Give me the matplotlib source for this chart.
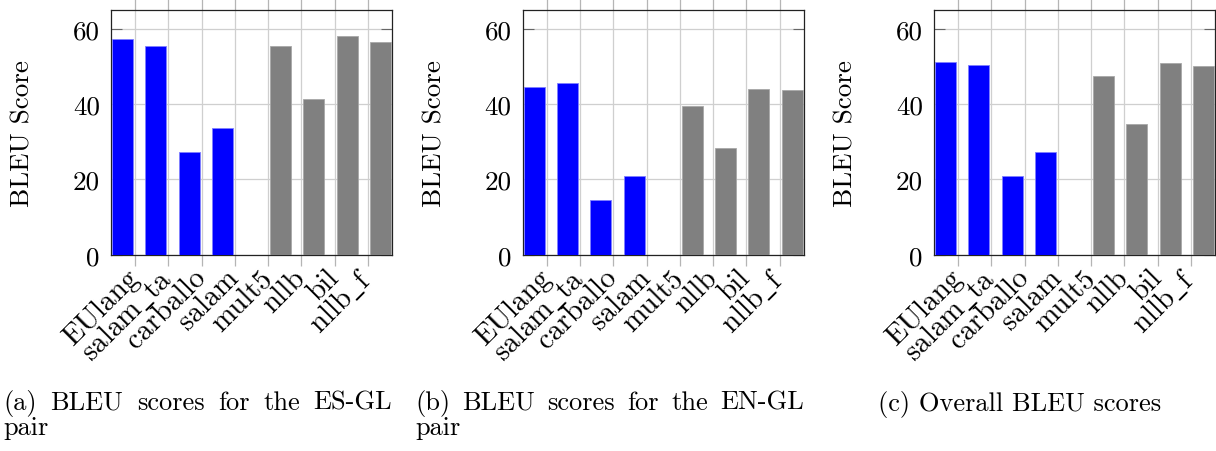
import matplotlib
matplotlib.use('Agg')
import matplotlib.pyplot as plt
import numpy as np

# ---------------- data ----------------
systems = ['EUlang', 'salam_ta', 'carballo', 'salam', 'mult5', 'nllb', 'bil', 'nllb_f']
n_blue = 4  # first four systems are drawn in blue, the rest in gray

es_gl_blue = [57.4, 55.5, 27.4, 33.6]
es_gl_gray = [55.4, 41.3, 58.0, 56.4]
en_gl_blue = [44.6, 45.6, 14.4, 20.9]
en_gl_gray = [39.5, 28.3, 44.1, 43.7]
overall_blue = [51.1, 50.5, 20.9, 27.2]
overall_gray = [47.5, 34.7, 51.0, 50.0]

yticks = [0, 20, 40, 60]
ylabel = 'BLEU Score'
captions = [
    ['(a) BLEU scores for the ES-GL', 'pair'],
    ['(b) BLEU scores for the EN-GL', 'pair'],
    ['(c) Overall BLEU scores'],
]

# ---------------- style ----------------
plt.rcParams.update({
    'font.family': 'serif',
    'font.serif': ['cmr10'],
    'mathtext.fontset': 'cm',
    'mathtext.rm': 'cmr10',
    'axes.formatter.use_mathtext': True,
    'font.size': 19,
})


def tex_label(s):
    # cmr10 has no plain underscore glyph: go through mathtext for it
    if '_' in s:
        return r'$\mathrm{' + s.replace('_', r'\_') + '}$'
    return s


W, H = 1216, 452
fig = plt.figure(figsize=(W / 100, H / 100), dpi=100)

panels = [(es_gl_blue, es_gl_gray), (en_gl_blue, en_gl_gray), (overall_blue, overall_gray)]
lefts = [111, 522.7, 934]
ax_w = 281
ax_top, ax_bot = 11, 255.7

for (blue, gray), left in zip(panels, lefts):
    ax = fig.add_axes([left / W, 1 - ax_bot / H, ax_w / W, (ax_bot - ax_top) / H])
    x = np.arange(len(systems))
    ax.bar(x[:n_blue] - 0.375, blue, width=0.63, color='#0000ff',
           edgecolor='#7f7fff', linewidth=0.6, zorder=3)
    ax.bar(x[n_blue:] + 0.375, gray, width=0.63, color='#808080',
           edgecolor='#a8a8a8', linewidth=0.6, zorder=3)
    ax.set_xlim(-0.72, 7.72)
    ax.set_ylim(0, 65)
    ax.set_xticks(x)
    ax.set_xticklabels([tex_label(s) for s in systems], rotation=45, ha='right',
                       va='center', rotation_mode='anchor', fontsize=21)
    ax.set_yticks(yticks)
    ax.set_yticklabels([str(v) for v in yticks], fontsize=19.5)
    ax.grid(True, color='#cfcfcf', linewidth=0.9)
    ax.set_axisbelow(True)
    ax.tick_params(axis='x', direction='out', length=8, width=0.9, color='#b5b5b5',
                   top=True, bottom=True, pad=5.5)
    ax.tick_params(axis='y', direction='in', length=8, width=0.8, color='#666666',
                   left=True, right=True, pad=8)
    for s in ax.spines.values():
        s.set_color('#222222')
        s.set_linewidth(0.9)
    ax.set_ylabel(ylabel, fontsize=19.5)
    ax.yaxis.label.set_va('center')
    ax.yaxis.set_label_coords(-88 / ax_w, 0.5)

# ---------------- captions ----------------
renderer = fig.canvas.get_renderer()


def justified(words_line, x0, x1, y):
    words = words_line.split()
    arts = [fig.text(0, 0, w, va='baseline', ha='left') for w in words]
    widths = [a.get_window_extent(renderer).width for a in arts]
    gap = (x1 - x0 - sum(widths)) / (len(words) - 1)
    xx = x0
    for a, w in zip(arts, widths):
        a.set_position((xx / W, 1 - y / H))
        xx += w + gap


cap_x = [(3, 392), (415, 804)]
for cap, (x0, x1) in zip(captions[:2], cap_x):
    justified(cap[0], x0, x1, 410)
    fig.text(x0 / W, 1 - 435 / H, cap[1], va='baseline', ha='left')
fig.text(878 / W, 1 - 411 / H, captions[2][0], va='baseline', ha='left')

fig.savefig('out.png', dpi=100)
